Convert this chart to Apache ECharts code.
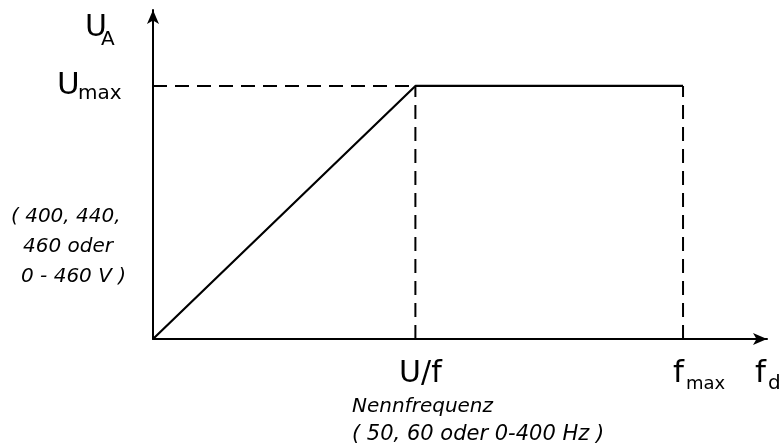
<!DOCTYPE html>
<html>
<head>
<meta charset="utf-8">
<script src="https://cdn.jsdelivr.net/npm/echarts@6/dist/echarts.min.js"></script>
<style>
html,body{margin:0;padding:0;background:#fff}
#chart{width:782px;height:444px}
</style>
</head>
<body>
<div id="chart"></div>
<script>
// U/f-Kennlinie: Spannung ueber Frequenz
var fNenn = 50;       // Knickpunkt U/f (Nennfrequenz)
var fMax = 101;       // f_max
var fAxisEnd = 117;   // Ende der f-Achse
var uMax = 460;       // U_max
var uAxisEnd = 598;   // Ende der U-Achse

var kennlinie = [[0, 0], [fNenn, uMax], [fMax, uMax]];
var hilfslinien = [
  [[0, uMax], [fNenn, uMax]],
  [[fNenn, 0], [fNenn, uMax]],
  [[fMax, 0], [fMax, uMax]]
];
var spannungText = ['( 400, 440,', '460 oder', '0 - 460 V )'];
var frequenzText = ['Nennfrequenz', '( 50, 60 oder 0-400 Hz )'];

var schrift = 'DejaVu Sans';
var chart = echarts.init(document.getElementById('chart'));

var achse = {
  show: true,
  onZero: false,
  symbol: ['none', 'arrow'],
  symbolSize: [9, 14],
  lineStyle: {color: '#000', width: 2}
};

var serien = [{
  type: 'line',
  data: kennlinie,
  symbol: 'none',
  lineStyle: {color: '#000', width: 2.2},
  z: 3
}];
hilfslinien.forEach(function (d) {
  serien.push({
    type: 'line',
    data: d,
    symbol: 'none',
    lineStyle: {color: '#000', width: 2, type: [14, 8]},
    z: 2
  });
});

chart.setOption({
  animation: false,
  backgroundColor: '#fff',
  grid: {left: 153, right: 15, top: 10, bottom: 105},
  xAxis: {
    type: 'value', min: 0, max: fAxisEnd,
    axisLine: achse, axisTick: {show: false},
    axisLabel: {show: false}, splitLine: {show: false}
  },
  yAxis: {
    type: 'value', min: 0, max: uAxisEnd,
    axisLine: achse, axisTick: {show: false},
    axisLabel: {show: false}, splitLine: {show: false}
  },
  series: serien
});

// Beschriftung an den Achsen
function txt(t, x, y, size, align, extra) {
  return {
    type: 'text', silent: true,
    style: {
      text: t, x: x, y: y,
      font: (extra || '') + size + 'px ' + schrift,
      fill: '#000', align: align || 'left', verticalAlign: 'bottom'
    }
  };
}

var pNenn = chart.convertToPixel({gridIndex: 0}, [fNenn, 0]);
var pMax = chart.convertToPixel({gridIndex: 0}, [fMax, 0]);
var pEnd = chart.convertToPixel({gridIndex: 0}, [fAxisEnd, 0]);
var pU = chart.convertToPixel({gridIndex: 0}, [0, uMax]);
var pTop = chart.convertToPixel({gridIndex: 0}, [0, uAxisEnd]);

var g = [];
// U_A
g.push(txt('U', pTop[0] - 68, pTop[1] + 33, 30));
g.push(txt('A', pTop[0] - 52, pTop[1] + 40, 20));
// U_max
g.push(txt('U', pU[0] - 96, pU[1] + 16, 31));
g.push(txt('max', pU[0] - 75, pU[1] + 18, 20));
// U/f
g.push(txt('U/f', pNenn[0] + 5, pNenn[1] + 50, 30, 'center'));
// f_max
g.push(txt('f', pMax[0] - 10, pMax[1] + 50, 31));
g.push(txt('max', pMax[0] + 3, pMax[1] + 54, 18));
// f_d
g.push(txt('f', pEnd[0] - 12, pEnd[1] + 50, 31));
g.push(txt('d', pEnd[0] + 1, pEnd[1] + 55, 20));
// Spannungsbereich links
spannungText.forEach(function (t, i) {
  g.push(txt(t, [11, 23, 21][i], 227 + i * 30, 20, 'left', 'italic '));
});
// Frequenzangaben unten
frequenzText.forEach(function (t, i) {
  g.push(txt(t, 352, 417 + i * 28, [20, 21][i], 'left', 'italic '));
});

chart.setOption({graphic: g});
</script>
</body>
</html>
